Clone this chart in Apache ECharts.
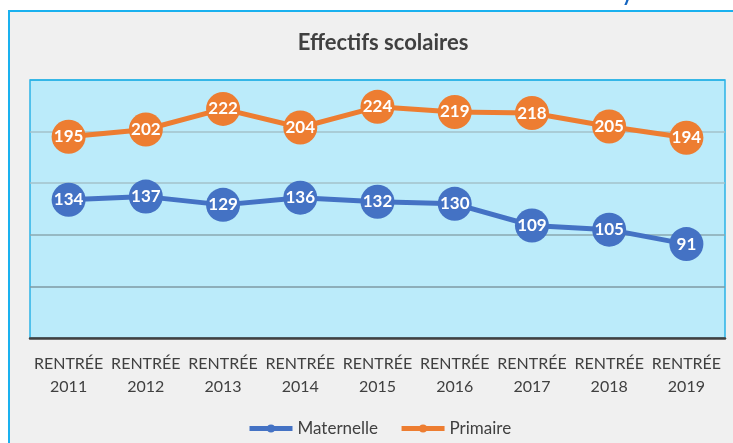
<!DOCTYPE html>
<html>
<head>
<meta charset="utf-8">
<script src="https://cdn.jsdelivr.net/npm/echarts@6/dist/echarts.min.js"></script>
<style>
  html, body { margin: 0; padding: 0; background: #ffffff; }
  #frame {
    position: absolute; left: 8px; top: 10px; width: 760px; height: 460px;
    border: 2px solid #1ab1ef; background: #f0f0f0;
  }
  #chart { position: absolute; left: 0; top: 0; width: 733px; height: 443px; }
</style>
</head>
<body>
<div id="frame"></div>
<div id="chart"></div>
<script>
// Données
const annees = ["RENTRÉE\n2011", "RENTRÉE\n2012", "RENTRÉE\n2013", "RENTRÉE\n2014", "RENTRÉE\n2015",
                "RENTRÉE\n2016", "RENTRÉE\n2017", "RENTRÉE\n2018", "RENTRÉE\n2019"];
const maternelle = [134, 137, 129, 136, 132, 130, 109, 105, 91];
const primaire = [195, 202, 222, 204, 224, 219, 218, 205, 194];

const bleu = "#4472c4";
const orange = "#ed7d31";

const chart = echarts.init(document.getElementById("chart"));

function serie(name, data, color) {
  return {
    name: name,
    type: "line",
    data: data,
    symbol: "circle",
    symbolSize: 34,
    lineStyle: { width: 5, color: color },
    itemStyle: { color: color },
    label: {
      show: true,
      position: "inside",
      color: "#ffffff",
      fontFamily: "Lato",
      fontWeight: "bold",
      fontSize: 17
    },
    z: name === "Primaire" ? 3 : 2
  };
}

chart.setOption({
  animation: false,
  title: {
    text: "Effectifs scolaires",
    left: 378, top: 27, textAlign: "center",
    textStyle: { fontFamily: "Lato", fontWeight: "bold", fontSize: 22, color: "#404040" }
  },
  graphic: [{
    type: "text", left: 622, top: -15,
    style: { text: "y", fill: "#1565c0", font: "bold 20px Lato" }
  }],
  legend: {
    bottom: 1, left: 242,
    itemWidth: 43, itemHeight: 10, itemGap: 21,
    lineStyle: { width: 5 },
    textStyle: { fontFamily: "Lato", fontSize: 17, color: "#404040" },
    data: ["Maternelle", "Primaire"]
  },
  grid: {
    left: 30, right: 8, top: 80, bottom: 105,
    show: true, backgroundColor: "#bbebfa", borderColor: "#2bb3e6", borderWidth: 1.5
  },
  xAxis: {
    type: "category",
    data: annees,
    boundaryGap: true,
    axisLine: { lineStyle: { color: "#404040", width: 2.5 } },
    axisTick: { show: false },
    axisLabel: {
      margin: 14, interval: 0,
      fontFamily: "Lato", fontSize: 16, lineHeight: 23, color: "#404040"
    }
  },
  yAxis: {
    type: "value",
    min: 0, max: 250, interval: 50,
    axisLabel: { show: false },
    axisLine: { show: false },
    axisTick: { show: false },
    splitLine: {
      lineStyle: { width: 1.5, color: ["#7e9aa3", "#7e9aa3", "#8aa8b1", "#a3c2ca", "#a3c2ca", "#2bb3e6"] }
    }
  },
  series: [serie("Maternelle", maternelle, bleu), serie("Primaire", primaire, orange)]
});
</script>
</body>
</html>
